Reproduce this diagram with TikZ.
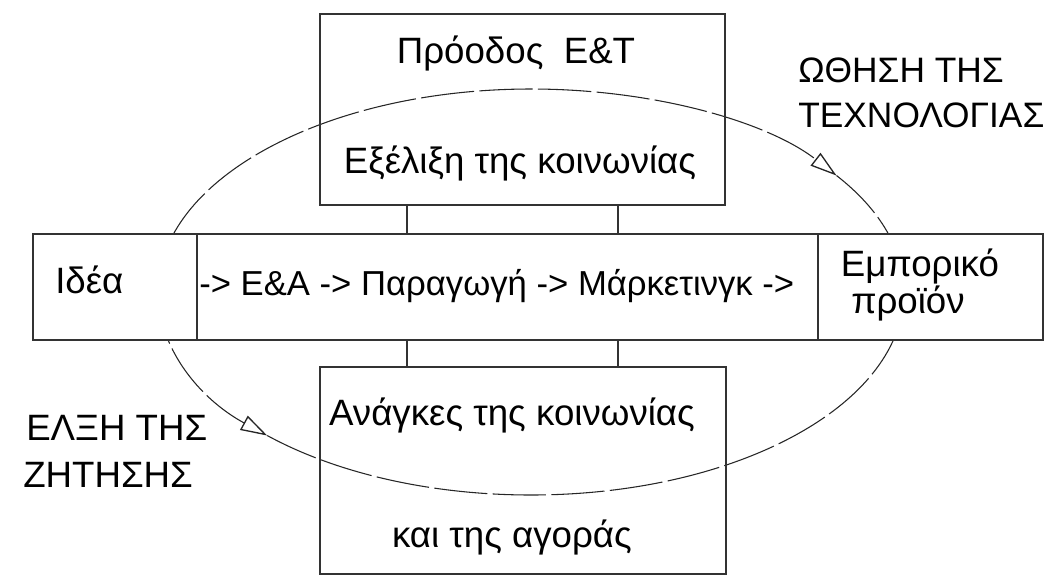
\documentclass[tikz,border=0pt]{standalone}
\usepackage{fontspec}
\setmainfont{Liberation Sans}
\usetikzlibrary{arrows.meta}

\tikzset{
  box/.style={draw=black!80, line width=1.4pt, inner sep=0pt},
  lbl/.style={inner sep=0pt, font=\fontsize{27.5}{30}\selectfont},
  orbit/.style={draw=black!85, line width=0.8pt, dash pattern=on 40pt off 4pt},
  flow/.style={-{Triangle[open, length=20pt, width=12pt, line width=1pt]}},
  link/.style={draw=black!80, line width=1.4pt},
}

\begin{document}
\begin{tikzpicture}[x=0.75pt,y=0.75pt,yscale=-1,xscale=1]
\useasboundingbox (0,0) rectangle (1051,587);

%Ellipse round the chain
\coordinate (ctr) at (531,292);
\draw[orbit, flow] (ctr) ++(180:373 and 203) arc[start angle=180, end angle=325, x radius=373, y radius=203];
\draw[orbit] (ctr) ++(325:373 and 203) arc[start angle=325, end angle=360, x radius=373, y radius=203];
\draw[orbit, flow] (ctr) ++(180:373 and 203) arc[start angle=180, end angle=135, x radius=373, y radius=203];
\draw[orbit] (ctr) ++(135:373 and 203) arc[start angle=135, end angle=0, x radius=373, y radius=203];

%Boxes
\node[box, minimum width=405*0.75pt, minimum height=191*0.75pt] (tech) at (522.5,109.5) {};
\node[box, fill=white, minimum width=164*0.75pt, minimum height=106*0.75pt] (idea) at (115,287) {};
\node[box, fill=white, minimum width=621*0.75pt, minimum height=106*0.75pt] (chain) at (507.5,287) {};
\node[box, fill=white, minimum width=225*0.75pt, minimum height=106*0.75pt] (prod) at (930.5,287) {};
\node[box, minimum width=406*0.75pt, minimum height=207*0.75pt] (needs) at (523,470.5) {};

%Straight Lines
\coordinate (colA) at (407,287);
\coordinate (colB) at (618,287);
\draw[link] (tech.south -| colA) -- (chain.north -| colA);
\draw[link] (tech.south -| colB) -- (chain.north -| colB);
\draw[link] (chain.south -| colA) -- (needs.north -| colA);
\draw[link] (chain.south -| colB) -- (needs.north -| colB);

% Text Node
\node[lbl, anchor=base] (techA) at (516,63) {Πρόοδος\ \ Ε\&Τ};
\node[lbl, anchor=base] (techB) at (520,173) {Εξέλιξη της κοινωνίας};
\node[lbl, anchor=base west] (ideaT) at (55,293) {Ιδέα};
\node[lbl, anchor=base west, font=\fontsize{26}{30}\selectfont] (chainT) at (199,295) {-> Ε\&Α -> Παραγωγή -> Μάρκετινγκ ->};
\node[lbl, anchor=base] (prodA) at (920,276) {Εμπορικό};
\node[lbl, anchor=base] (prodB) at (908,313) {προϊόν};
\node[lbl, anchor=base west, font=\fontsize{26.5}{30}\selectfont] (pushA) at (798,82) {ΩΘΗΣΗ ΤΗΣ};
\node[lbl, anchor=base west, font=\fontsize{26.5}{30}\selectfont] (pushB) at (798,127) {ΤΕΧΝΟΛΟΓΙΑΣ};
\node[lbl, anchor=base west] (pullA) at (26,440) {ΕΛΞΗ ΤΗΣ};
\node[lbl, anchor=base west] (pullB) at (23,487) {ΖΗΤΗΣΗΣ};
\node[lbl, anchor=base] (needsA) at (512,425) {Ανάγκες της κοινωνίας};
\node[lbl, anchor=base] (needsB) at (512,547) {και της αγοράς};

\end{tikzpicture}
\end{document}
